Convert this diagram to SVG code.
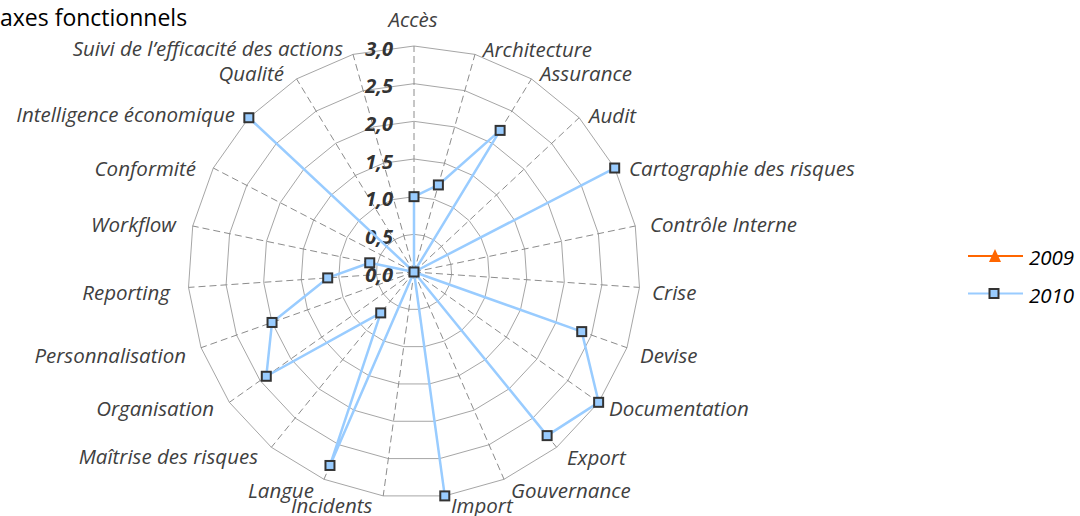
<svg xmlns="http://www.w3.org/2000/svg" width="1080" height="516" viewBox="0 0 1080 516">
<style>
.ring{fill:none;stroke:#a6a6a6;stroke-width:1;vector-effect:non-scaling-stroke}
.spoke{fill:none;stroke:#8c8c8c;stroke-width:1;stroke-dasharray:7,4}
.lbl{font-family:"Open Sans","Liberation Sans",sans-serif;font-style:italic;font-size:20.5px;fill:#404040}
.val{font-family:"Open Sans","Liberation Sans",sans-serif;font-style:italic;font-weight:bold;font-size:20px;fill:#333;text-anchor:end}
.title{font-family:"Open Sans","Liberation Sans",sans-serif;font-size:23px;fill:#000}
.leg{font-family:"Open Sans","Liberation Sans",sans-serif;font-style:italic;font-size:20.5px;fill:#000}
.s2010{fill:none;stroke:#99ccff;stroke-width:2.5;stroke-linejoin:round}
.mk{fill:#99ccff;stroke:#333;stroke-width:2}
</style>
<defs>
<rect id="sq" class="mk" x="-4.5" y="-4.5" width="9" height="9"/>
</defs>
<rect width="1080" height="516" fill="#fff"/>
<text class="title" x="0" y="26">axes fonctionnels</text>
<g id="grid">
<g id="rings">
<polygon class="ring" transform="translate(414 272) scale(0.37667)" points="0,-100 26.98,-96.29 51.96,-85.44 73.08,-68.26 88.8,-46.01 97.91,-20.35 99.77,6.82 94.23,33.49 81.7,57.67 63.11,77.57 39.84,91.72 13.62,99.07 -13.62,99.07 -39.84,91.72 -63.11,77.57 -81.7,57.67 -94.23,33.49 -99.77,6.82 -97.91,-20.35 -88.8,-46.01 -73.08,-68.26 -51.96,-85.44 -26.98,-96.29"/>
<polygon class="ring" transform="translate(414 272) scale(0.75333)" points="0,-100 26.98,-96.29 51.96,-85.44 73.08,-68.26 88.8,-46.01 97.91,-20.35 99.77,6.82 94.23,33.49 81.7,57.67 63.11,77.57 39.84,91.72 13.62,99.07 -13.62,99.07 -39.84,91.72 -63.11,77.57 -81.7,57.67 -94.23,33.49 -99.77,6.82 -97.91,-20.35 -88.8,-46.01 -73.08,-68.26 -51.96,-85.44 -26.98,-96.29"/>
<polygon class="ring" transform="translate(414 272) scale(1.13)" points="0,-100 26.98,-96.29 51.96,-85.44 73.08,-68.26 88.8,-46.01 97.91,-20.35 99.77,6.82 94.23,33.49 81.7,57.67 63.11,77.57 39.84,91.72 13.62,99.07 -13.62,99.07 -39.84,91.72 -63.11,77.57 -81.7,57.67 -94.23,33.49 -99.77,6.82 -97.91,-20.35 -88.8,-46.01 -73.08,-68.26 -51.96,-85.44 -26.98,-96.29"/>
<polygon class="ring" transform="translate(414 272) scale(1.50667)" points="0,-100 26.98,-96.29 51.96,-85.44 73.08,-68.26 88.8,-46.01 97.91,-20.35 99.77,6.82 94.23,33.49 81.7,57.67 63.11,77.57 39.84,91.72 13.62,99.07 -13.62,99.07 -39.84,91.72 -63.11,77.57 -81.7,57.67 -94.23,33.49 -99.77,6.82 -97.91,-20.35 -88.8,-46.01 -73.08,-68.26 -51.96,-85.44 -26.98,-96.29"/>
<polygon class="ring" transform="translate(414 272) scale(1.88333)" points="0,-100 26.98,-96.29 51.96,-85.44 73.08,-68.26 88.8,-46.01 97.91,-20.35 99.77,6.82 94.23,33.49 81.7,57.67 63.11,77.57 39.84,91.72 13.62,99.07 -13.62,99.07 -39.84,91.72 -63.11,77.57 -81.7,57.67 -94.23,33.49 -99.77,6.82 -97.91,-20.35 -88.8,-46.01 -73.08,-68.26 -51.96,-85.44 -26.98,-96.29"/>
<polygon class="ring" transform="translate(414 272) scale(2.26)" points="0,-100 26.98,-96.29 51.96,-85.44 73.08,-68.26 88.8,-46.01 97.91,-20.35 99.77,6.82 94.23,33.49 81.7,57.67 63.11,77.57 39.84,91.72 13.62,99.07 -13.62,99.07 -39.84,91.72 -63.11,77.57 -81.7,57.67 -94.23,33.49 -99.77,6.82 -97.91,-20.35 -88.8,-46.01 -73.08,-68.26 -51.96,-85.44 -26.98,-96.29"/>
</g>
<g id="spokes">
<path class="spoke" d="M414,272L414,46M414,272L474.97,54.38M414,272L531.43,78.91M414,272L579.16,117.73M414,272L614.69,168.02M414,272L635.28,226.01M414,272L639.48,287.42M414,272L626.96,347.69M414,272L598.64,402.33M414,272L556.63,447.31M414,272L504.04,479.29M414,272L444.78,495.9M414,272L383.22,495.9M414,272L323.96,479.29M414,272L271.37,447.31M414,272L229.36,402.33M414,272L201.04,347.69M414,272L188.52,287.42M414,272L192.72,226.01M414,272L213.31,168.02M414,272L248.84,117.73M414,272L296.57,78.91M414,272L353.03,54.38"/>
</g>
</g>
<g id="values">
<text class="val" x="393" y="55.5">3,0</text>
<text class="val" x="393" y="93.2">2,5</text>
<text class="val" x="393" y="130.8">2,0</text>
<text class="val" x="393" y="168.5">1,5</text>
<text class="val" x="393" y="206.2">1,0</text>
<text class="val" x="393" y="243.8">0,5</text>
<text class="val" x="393" y="281.5">0,0</text>
</g>
<g id="axis-labels">
<text class="lbl" x="413" y="27" text-anchor="middle">Accès</text>
<text class="lbl" x="483" y="57">Architecture</text>
<text class="lbl" x="540" y="81">Assurance</text>
<text class="lbl" x="589" y="123">Audit</text>
<text class="lbl" x="629" y="176">Cartographie des risques</text>
<text class="lbl" x="650" y="232">Contrôle Interne</text>
<text class="lbl" x="652" y="300">Crise</text>
<text class="lbl" x="640" y="363">Devise</text>
<text class="lbl" x="609" y="416">Documentation</text>
<text class="lbl" x="567" y="465">Export</text>
<text class="lbl" x="511" y="498">Gouvernance</text>
<text class="lbl" x="451" y="513">Import</text>
<text class="lbl" x="291" y="513">Incidents</text>
<text class="lbl" x="248" y="498">Langue</text>
<text class="lbl" x="258" y="464" text-anchor="end">Maîtrise des risques</text>
<text class="lbl" x="214" y="416" text-anchor="end">Organisation</text>
<text class="lbl" x="186" y="363" text-anchor="end">Personnalisation</text>
<text class="lbl" x="170" y="300" text-anchor="end">Reporting</text>
<text class="lbl" x="176" y="232" text-anchor="end">Workflow</text>
<text class="lbl" x="196" y="176" text-anchor="end">Conformité</text>
<text class="lbl" x="235" y="122" text-anchor="end">Intelligence économique</text>
<text class="lbl" x="284" y="81" text-anchor="end">Qualité</text>
<text class="lbl" x="343" y="56" text-anchor="end">Suivi de l’efficacité des actions</text>
</g>
<g id="series-2010">
<path class="s2010" d="M414,196.67L438.39,184.95L500.11,130.4L414,272L614.69,168.02L414,272L414,272L581.73,331.61L598.64,402.33L547.12,435.62L414,272L444.78,495.9L414,272L329.97,465.47L380.72,312.9L266.29,376.27L272.03,322.46L327.7,277.9L369.74,262.8L414,272L248.84,117.73L414,272L414,272Z"/>
<use href="#sq" x="414" y="196.67"/>
<use href="#sq" x="438.39" y="184.95"/>
<use href="#sq" x="500.11" y="130.4"/>
<use href="#sq" x="614.69" y="168.02"/>
<use href="#sq" x="581.73" y="331.61"/>
<use href="#sq" x="598.64" y="402.33"/>
<use href="#sq" x="547.12" y="435.62"/>
<use href="#sq" x="444.78" y="495.9"/>
<use href="#sq" x="329.97" y="465.47"/>
<use href="#sq" x="380.72" y="312.9"/>
<use href="#sq" x="266.29" y="376.27"/>
<use href="#sq" x="272.03" y="322.46"/>
<use href="#sq" x="327.7" y="277.9"/>
<use href="#sq" x="369.74" y="262.8"/>
<use href="#sq" x="248.84" y="117.73"/>
<use href="#sq" x="414" y="272"/>
</g>
<g id="legend">
<g id="legend-2009">
<line x1="968" y1="256" x2="1023" y2="256" stroke="#ff6600" stroke-width="2"/>
<polygon points="995,249 1001,262 989,262" fill="#ff6600"/>
<text class="leg" x="1029" y="265">2009</text>
</g>
<g id="legend-2010">
<line x1="968" y1="293.5" x2="1023" y2="293.5" stroke="#99ccff" stroke-width="2"/>
<use href="#sq" x="994" y="293.5"/>
<text class="leg" x="1029" y="303">2010</text>
</g>
</g>
</svg>
